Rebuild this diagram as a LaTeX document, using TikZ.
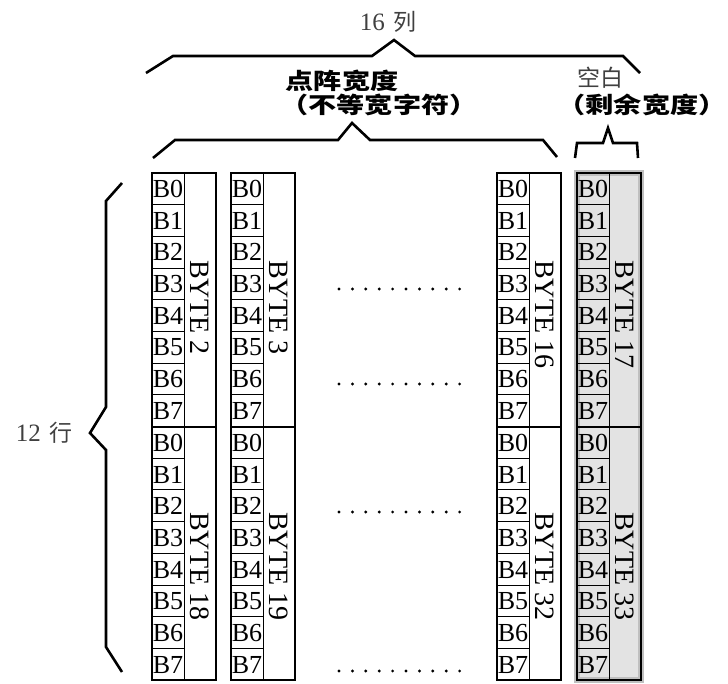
\documentclass[tikz,border=0pt]{standalone}
\usepackage{fontspec}
\setmainfont{Liberation Serif}
\newfontfamily\cjk{Noto Sans CJK SC}
\newfontfamily\cjkwide[FakeStretch=1.25]{Noto Sans CJK SC}
\tikzset{
  brace/.style={line width=2.6pt, line join=miter},
  frame/.style={line width=2.8pt},
  cell/.style={line width=0.8pt},
  bit/.style={anchor=west, inner sep=0.6pt, font=\fontsize{26}{26}\selectfont},
  bytelabel/.style={rotate=-90, anchor=west, inner sep=0pt, font=\fontsize{28}{28}\selectfont},
  thinlabel/.style={text=black!75, font=\fontsize{23}{23}\selectfont\cjk},
  heavylabel/.style={inner sep=0pt, font=\fontsize{22.5}{22.5}\selectfont\cjkwide\bfseries},
}
\begin{document}
\begin{tikzpicture}[x=1pt,y=-1pt]
\useasboundingbox (0,0) rectangle (728,684);
% Spalte "BYTE 17/33" grau hinterlegt
\fill[black!11] (577,173) rectangle (641,680);
\draw[line width=5.5pt, black!25] (577,173) rectangle (641,680);
% Spalten
\foreach \x/\n/\m in {152/2/18, 231/3/19, 497/16/32, 577/17/33}{
  \draw[cell] (\x+32,173) -- (\x+32,680);
  \foreach \i in {1,...,15}
    \draw[cell] (\x,173+\i*31.6875) -- (\x+32,173+\i*31.6875);
  \foreach \i in {0,...,7}{
    \node[bit] (b\n-\i) at (\x,189+\i*31.6875) {B\i};
    \node[bit] (b\m-\i) at (\x,443+\i*31.6875) {B\i};
  }
  \draw[frame] (\x,173) rectangle (\x+64,680);
  \draw[frame] (\x,427) -- (\x+64,427);
  \node[bytelabel] (byte\n) at (\x+48,260) {BYTE \n};
  \node[bytelabel] (byte\m) at (\x+48,512) {BYTE \m};
}
% Punkte
\foreach \y in {289,384,512,671}
  \foreach \i in {0,...,9}
    \fill (339+\i*13.4,\y) circle (1.6);
% Klammern
\draw[brace] (146,73) -- (173,56) -- (372,56) -- (394,40) -- (415,56) -- (623,56) -- (640,73);
\draw[brace] (153,158) -- (175,140) -- (338,140) -- (352,123) -- (370,140) -- (543,140) -- (557,157);
\draw[brace] (575,158) -- (577,143) -- (603,143) -- (608,128) -- (613,143) -- (637,143) -- (638,158);
\draw[brace] (122,183) -- (106,201) -- (106,407) -- (90,433) -- (106,450) -- (106,647) -- (122,672);
% Beschriftung
\node[thinlabel] (cols) at (388,22) {{\rmfamily\fontsize{25}{25}\selectfont 16}\hspace{0.35em}列};
\node[heavylabel] (width) at (342,81) {点阵宽度};
\node[heavylabel] (uneq) at (379,105) {（不等宽字符）};
\node[thinlabel] (blank) at (600,78) {空白};
\node[heavylabel] (rest) at (642,105) {（剩余宽度）};
\node[thinlabel] (rows) at (44,433) {{\rmfamily\fontsize{25}{25}\selectfont 12}\hspace{0.35em}行};
\end{tikzpicture}
\end{document}
